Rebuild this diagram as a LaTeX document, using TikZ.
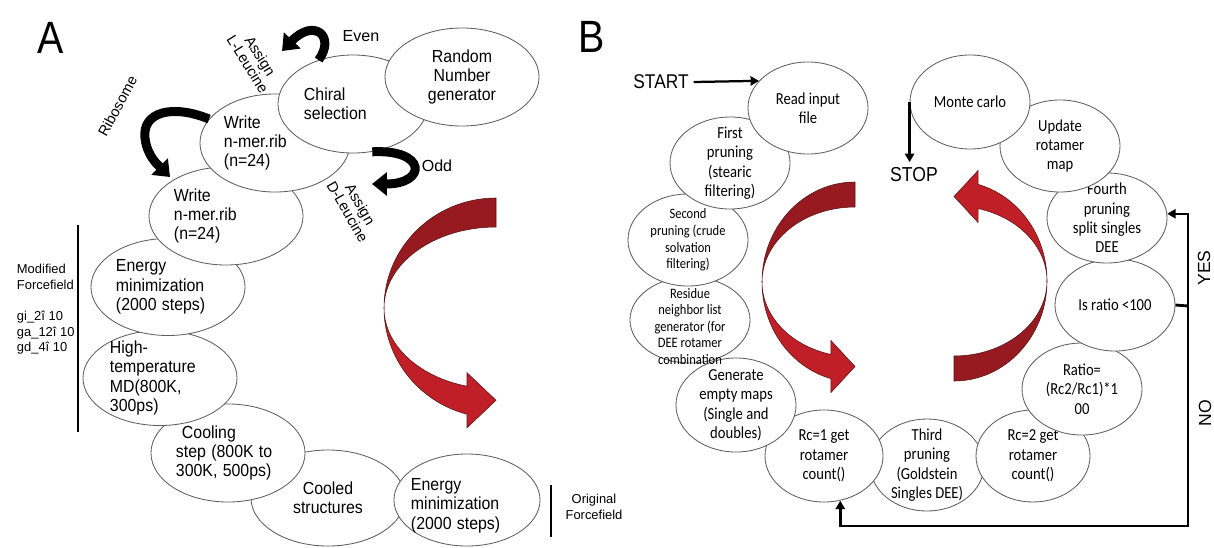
\documentclass[tikz,border=0pt]{standalone}
\usepackage{fontspec}
\setmainfont{Liberation Sans}
\newfontfamily\calib{Carlito}
\usetikzlibrary{arrows.meta,shapes.geometric,positioning}
\definecolor{backred}{RGB}{150,26,31}
\definecolor{frontred}{RGB}{193,31,39}
\definecolor{rimred}{RGB}{85,22,22}
\definecolor{rimgray}{RGB}{95,95,95}

% twisted red turn arrow: centre x, centre y, x radius, outer y radius, inner y radius, head half width
\newcommand{\redturn}[6]{%
  \filldraw[fill=backred,draw=rimred,line width=0.4pt]
    (#1,{#2+#4}) arc[start angle=90,end angle=180,x radius=#3,y radius=#4]
    arc[start angle=180,end angle=90,x radius=#3,y radius=#5] -- cycle;
  \filldraw[fill=frontred,draw=rimred,line width=0.4pt]
    ({#1-#3},#2) arc[start angle=180,end angle=255,x radius=#3,y radius=#4]
    -- ({#1-0.2588*#3},{#2-0.9659*(#4+#5)/2-#6})
    -- (#1,{#2-0.9659*(#4+#5)/2})
    -- ({#1-0.2588*#3},{#2-0.9659*(#4+#5)/2+#6})
    -- ({#1-0.2588*#3},{#2-0.9659*#5})
    arc[start angle=255,end angle=180,x radius=#3,y radius=#5] -- cycle;
}

\begin{document}
\begin{tikzpicture}[x=0.025cm,y=0.025cm,
  stageA/.style={ellipse,draw=rimgray,line width=0.6pt,fill=white,inner sep=0pt,minimum width=3.85cm,minimum height=2.45cm},
  stageB/.style={stageA,minimum width=3cm,minimum height=2.3cm},
  txtA/.style={align=left,inner sep=0pt,yscale=1.1,transform shape,font=\fontsize{11.3}{12.55}\selectfont},
  txtB/.style={align=center,inner sep=0pt,yscale=1.15,transform shape,font=\calib\fontsize{10.4}{12}\selectfont},
  txtBs/.style={txtB,font=\calib\fontsize{8.9}{10.26}\selectfont},
  tall/.style={yscale=1.15,transform shape},
  hookarrow/.style={line width=6.4pt,-{Triangle[length=10.5pt,width=16pt]}},
  flowline/.style={line width=1.6pt,-{Triangle[length=6pt,width=6.5pt]}}]
  \useasboundingbox (0,0) rectangle (1214,-547);

  % Panel labels
  \node[tall,font=\fontsize{28}{30}\selectfont] (panela) at (51,-38) {A};
  \node[tall,font=\fontsize{28}{30}\selectfont] (panelb) at (592,-37) {B};

  % Panel A: big turn arrow
  \redturn{496}{-308}{112}{110}{81}{27.5}

  % Panel A: stages, last one first so that earlier ones lie on top
  \node[stageA,minimum height=2.4cm,label={[txtA,align=center]center:{Cooled\\structures}}] (cooled) at (328,-498) {};
  \node[stageA,minimum width=3.65cm,minimum height=2.3cm,label={[txtA,text width=2.8cm,yshift=-0.125cm]center:{Energy\\minimization\\(2000 steps)}}] (eminb) at (467,-500) {};
  \node[stageA,label={[txtA,text width=2.6cm]center:{\hspace*{0.15cm}Cooling\\step (800K to\\300K, 500ps)}}] (cool) at (228,-453) {};
  \node[stageA,minimum height=2.375cm,label={[txtA,text width=2.5cm]center:{High-\\temperature\\MD(800K,\\300ps)}}] (hot) at (160,-378) {};
  \node[stageA,minimum height=2.425cm,label={[txtA,text width=2.6cm]center:{Energy\\minimization\\(2000 steps)}}] (emina) at (168,-287) {};
  \node[stageA,label={[txtA,text width=2.6cm]center:{Write\\n-mer.rib\\(n=24)}}] (writeb) at (226,-216) {};
  \node[stageA,minimum width=3.75cm,label={[txtA,text width=2.55cm]center:{Write\\n-mer.rib\\(n=24)}}] (writea) at (275,-143) {};
  \node[stageA,minimum width=3.75cm,label={[txtA,text width=2.45cm]center:{Chiral\\selection}}] (chiral) at (353,-104) {};
  \node[stageA,label={[txtA,align=center]center:{Random\\Number\\generator}}] (rng) at (462,-77) {};

  % Panel A: chirality and ribosome hooks
  \draw[hookarrow] (chiral.128) .. controls (336,-36) and (314,-18) .. (282,-51);
  \draw[hookarrow] (chiral.-68) .. controls (427,-149) and (427,-184) .. (372,-184);
  \draw[hookarrow] (writea.160) .. controls (172,-104) and (142,-112) .. (145,-138)
    .. controls (147,-156) and (158,-165) .. (170,-177);
  \node[font=\fontsize{11.4}{13}\selectfont] (even) at (361,-36) {Even};
  \node[font=\fontsize{11.4}{13}\selectfont] (odd) at (437,-166) {Odd};
  \node[rotate=-58,align=center,font=\fontsize{10.5}{10.5}\selectfont] (lleu) at (254,-60) {Assign\\L-Leucine};
  \node[rotate=-60,align=center,font=\fontsize{10.5}{10.5}\selectfont] (dleu) at (354,-208) {Assign\\D-Leucine};
  \node[rotate=61.5,font=\fontsize{10.4}{12}\selectfont] (ribo) at (117.5,-106) {Ribosome};

  % Panel A: forcefield notes
  \draw[line width=2pt] (78,-225) -- (78,-432);
  \node[anchor=west,align=left,font=\fontsize{9.2}{11.1}\selectfont] (modff) at (12,-309.5)
    {Modified\\Forcefield\\[11.1pt]gi\_2î 10\\ga\_12î 10\\gd\_4î 10};
  \draw[line width=2pt] (551,-485) -- (551,-537);
  \node[align=center,font=\fontsize{9.2}{11.1}\selectfont] (origff) at (594,-507) {Original\\Forcefield};

  % Panel B: turn arrows
  \redturn{855}{-282}{93}{100}{75}{26}
  \begin{scope}[rotate around={180:(904.5,-281.5)}]
    \redturn{855}{-282}{93}{100}{75}{26}
  \end{scope}

  % Panel B: stages
  \node[stageB,minimum width=2.85cm,label={[txtB]center:{Third\\pruning\\(Goldstein\\Singles DEE)}}] (third) at (927,-465) {};
  \node[stageB,minimum width=2.85cm,label={[txtB]center:{Rc=2 get\\rotamer\\count()}}] (rctwo) at (1033,-456) {};
  \node[stageB,label={[txtB]center:{Ratio=\\(Rc2/Rc1)*1\\00}}] (ratio) at (1082,-389) {};
  \node[stageB,label={[txtB]center:{Is ratio <100}}] (isratio) at (1115,-305) {};
  \node[stageB,minimum height=2.25cm,label={[txtB]center:{Fourth\\pruning\\split singles\\DEE}}] (fourth) at (1107,-218) {};
  \node[stageB,label={[txtB]center:{Update\\rotamer\\map}}] (update) at (1060,-146) {};
  \node[stageB,minimum height=2.35cm,label={[txtB]center:{Monte carlo}}] (monte) at (970,-102) {};
  \node[stageB,minimum width=2.95cm,label={[txtB]center:{Rc=1 get\\rotamer\\count()}}] (rcone) at (824,-456) {};
  \node[stageB,minimum height=2.35cm,label={[txtB]center:{Generate\\empty maps\\(Single and\\doubles)}}] (gen) at (736,-405) {};
  \node[stageB,minimum height=2.15cm,label={[txtBs,yshift=-0.14cm]center:{Residue\\neighbor list\\generator (for\\DEE rotamer\\combination}}] (resid) at (690,-320) {};
  \node[stageB,label={[txtBs]center:{Second\\pruning (crude\\solvation\\filtering)}}] (second) at (688,-240) {};
  \node[stageB,label={[txtB]center:{First\\pruning\\(stearic\\filtering)}}] (first) at (730,-163) {};
  \node[stageB,label={[txtB]center:{Read input\\file}}] (read) at (808,-108) {};

  % Panel B: start, stop and the ratio test
  \node[tall,font=\fontsize{12.3}{14}\selectfont] (start) at (661,-82) {START};
  \node[tall,font=\fontsize{12.5}{14}\selectfont] (stop) at (914,-175) {STOP};
  \draw[flowline] (start.east) -- (read.151);
  \draw[flowline] (monte.west) -- (monte.west |- stop.north);
  \coordinate (fork) at (1188,-306);
  \coordinate (corner) at (1188,-526);
  \draw[line width=2pt] (isratio.east) -- (fork);
  \draw[flowline] (fork) |- (fourth.4);
  \draw[flowline,line width=2pt] (fork) -- (corner) -| (rcone.-70);
  \node[rotate=90,inner sep=1pt,font=\fontsize{12.5}{14}\selectfont] (yes) at (1204,-268) {YES};
  \node[rotate=90,inner sep=1pt,font=\fontsize{12.5}{14}\selectfont] (no) at (1205,-413) {NO};
\end{tikzpicture}
\end{document}
